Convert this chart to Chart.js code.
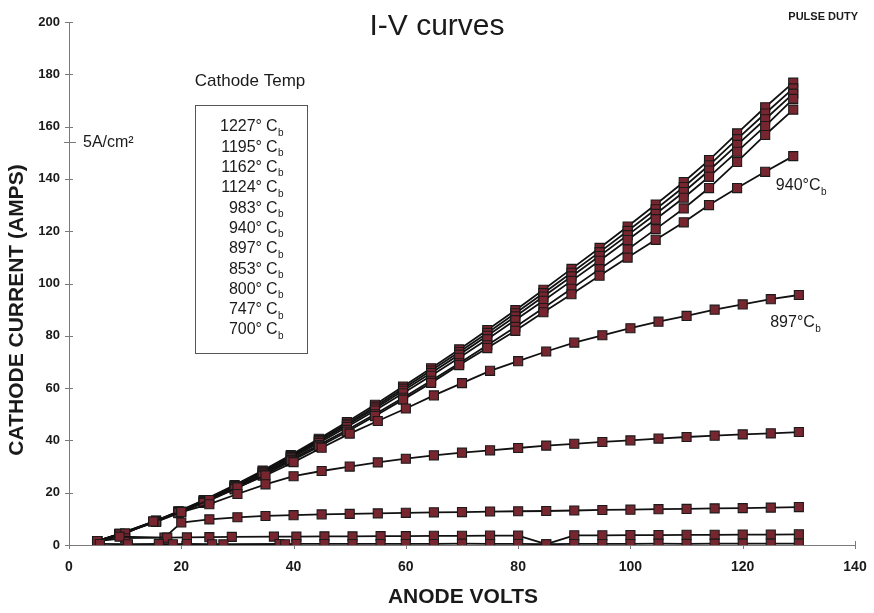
<!DOCTYPE html>
<html>
<head>
<meta charset="utf-8">
<script src="https://cdn.jsdelivr.net/npm/chart.js@4.4.1/dist/chart.umd.min.js"></script>
<style>
  html, body { margin: 0; padding: 0; background: #ffffff; }
  canvas { display: block; }
</style>
</head>
<body>
<canvas id="ivChart" width="874" height="613"></canvas>
<script>
// Cathode temperatures (°C brightness), hottest first
const cathodeTemps = ['1227', '1195', '1162', '1124', '983', '940', '897', '853', '800', '747', '700'];

// Anode voltage steps (V)
const voltsHigh = [5, 9, 15.5, 19.5, 24, 29.5, 34.5, 39.5, 44.5, 49.5, 54.5, 59.5, 64.5, 69.5, 74.5, 79.5, 84.5, 89.5, 94.5, 99.5, 104.5, 109.5, 114, 119, 124, 129];
const voltsLow = [5, 10, 15, 20, 25, 30, 35, 40, 45, 50, 55, 60, 65, 70, 75, 80, 85, 90, 95, 100, 105, 110, 115, 120, 125, 130];
const volts800 = [5, 10, 17, 20, 25, 30, 35, 40, 45, 50, 55, 60, 65, 70, 75, 80, 85, 90, 95, 100, 105, 110, 115, 120, 125, 130];
const volts747 = [5, 9, 17.5, 21, 25, 29, 36.5, 40.5, 45.5, 50.5, 55.5, 60, 65, 70, 75, 80, 85, 90, 95, 100, 105, 110, 115, 120, 125, 130];
const volts700 = [5.5, 10.5, 16, 18.5, 21, 25.5, 27.5, 37.5, 38.5, 40.5, 45.5, 50.5, 55.5, 60, 65, 70, 75, 80, 85, 90, 95, 100, 105, 110, 115, 120, 125, 130];

// Cathode current (A)
const amps1227 = [1.5, 4.3, 9.3, 12.9, 17.2, 22.9, 28.5, 34.4, 40.6, 47.0, 53.6, 60.6, 67.6, 74.8, 82.2, 89.8, 97.6, 105.6, 113.6, 121.8, 130.2, 138.8, 147.2, 157.4, 167.4, 176.8];
const amps1195 = [1.5, 4.3, 9.2, 12.8, 17.0, 22.6, 28.2, 34.0, 40.1, 46.4, 52.9, 59.8, 66.7, 73.8, 81.1, 88.6, 96.3, 104.1, 112.0, 120.1, 128.4, 136.9, 145.2, 155.2, 165.0, 174.6];
const amps1162 = [1.5, 4.2, 9.1, 12.6, 16.8, 22.3, 27.8, 33.6, 39.6, 45.8, 52.2, 59.0, 65.8, 72.8, 80.0, 87.4, 95.0, 102.7, 110.5, 118.5, 126.6, 135.0, 143.2, 153.0, 162.8, 172.6];
const amps1124 = [1.5, 4.2, 9.0, 12.5, 16.6, 22.0, 27.4, 33.1, 39.0, 45.1, 51.4, 58.0, 64.7, 71.6, 78.7, 86.0, 93.4, 101.0, 108.7, 116.6, 124.6, 132.8, 140.8, 150.4, 160.2, 170.6];
const amps983  = [1.5, 4.1, 8.9, 12.3, 16.3, 21.6, 26.9, 32.5, 38.2, 44.0, 50.0, 56.3, 62.8, 69.5, 76.4, 83.4, 90.6, 98.0, 105.5, 113.0, 120.8, 128.7, 136.5, 146.5, 156.8, 166.5];
const amps940  = [1.5, 4.1, 8.8, 12.2, 16.1, 21.3, 26.5, 32.0, 37.6, 43.3, 49.3, 55.6, 62.0, 68.8, 75.3, 81.9, 89.0, 95.9, 103.0, 109.9, 116.7, 123.4, 130.0, 136.5, 142.7, 148.7];
const amps897  = [1.5, 4.4, 9.0, 12.8, 17.2, 22.0, 26.6, 31.7, 37.2, 42.6, 47.4, 52.2, 57.2, 61.9, 66.6, 70.3, 74.0, 77.4, 80.2, 82.9, 85.4, 87.6, 90.0, 92.0, 94.0, 95.6];
const amps853  = [1.5, 4.4, 9.0, 12.6, 15.6, 19.5, 23.2, 26.3, 28.3, 30.0, 31.6, 33.0, 34.3, 35.3, 36.2, 37.1, 38.0, 38.7, 39.4, 40.0, 40.7, 41.3, 41.8, 42.3, 42.7, 43.2];
const amps800  = [1.5, 2.6, 2.8, 8.6, 9.8, 10.6, 11.1, 11.4, 11.7, 11.9, 12.1, 12.3, 12.5, 12.6, 12.8, 12.9, 13.0, 13.2, 13.4, 13.5, 13.7, 13.8, 14.0, 14.1, 14.3, 14.5];
const amps747  = [1.5, 3.2, 2.8, 2.9, 3.0, 3.1, 3.2, 3.2, 3.3, 3.3, 3.4, 3.4, 3.5, 3.5, 3.6, 3.6, 0.3, 3.7, 3.7, 3.8, 3.8, 3.9, 3.9, 4.0, 4.0, 4.1];
const amps700  = [0.4, 0.3, 0.4, 0.3, 0.4, 0.3, 0.3, 0.4, 0.3, 0.4, 0.4, 0.4, 0.4, 0.4, 0.4, 0.5, 0.4, 0.4, 0.3, 0.4, 0.4, 0.4, 0.5, 0.4, 0.5, 0.5, 0.5, 0.5];

// Axis ticks
const xTickValues = [0, 20, 40, 60, 80, 100, 120, 140];
const yTickValues = [0, 20, 40, 60, 80, 100, 120, 140, 160, 180, 200];

// Current corresponding to 5 A/cm² emission density
const densityMarkAmps = 154.3;

// Curves labelled directly near their right end
const endLabels = ['940', '897'];

const seriesTable = [
  { temp: '700',  volts: volts700,  amps: amps700 },
  { temp: '747',  volts: volts747,  amps: amps747 },
  { temp: '800',  volts: volts800,  amps: amps800 },
  { temp: '853',  volts: voltsLow,  amps: amps853 },
  { temp: '897',  volts: voltsLow,  amps: amps897 },
  { temp: '940',  volts: voltsHigh, amps: amps940 },
  { temp: '983',  volts: voltsHigh, amps: amps983 },
  { temp: '1124', volts: voltsHigh, amps: amps1124 },
  { temp: '1162', volts: voltsHigh, amps: amps1162 },
  { temp: '1195', volts: voltsHigh, amps: amps1195 },
  { temp: '1227', volts: voltsHigh, amps: amps1227 }
];

const FONT = '"Liberation Sans", Arial, Helvetica, sans-serif';
const MARKER_FILL = '#772630';

// Where the end-of-curve labels sit, in axis units (left edge, vertical centre)
const endLabelAnchor = { '940': { x: 125.9, y: 137.5 }, '897': { x: 124.9, y: 85.0 } };

const datasets = seriesTable.map(s => ({
  label: s.temp + '° Cb',
  data: s.volts.map((v, i) => ({ x: v, y: s.amps[i] })),
  showLine: true,
  borderColor: '#111111',
  borderWidth: 1.8,
  pointStyle: 'rect',
  pointRadius: 6.4,
  pointBackgroundColor: MARKER_FILL,
  pointBorderColor: '#1a1a1a',
  pointBorderWidth: 1.1,
  tension: 0
}));

// Draws "<num>°C" with a subscript b
function drawTempLabel(ctx, numText, x, y, size, align, gap) {
  ctx.font = size + 'px ' + FONT;
  ctx.textBaseline = 'middle';
  if (align === 'right') {
    ctx.textAlign = 'right';
    ctx.fillText(numText + '°', x, y);
    ctx.textAlign = 'left';
    const cx = x + gap;
    ctx.fillText('C', cx, y);
    const cw = ctx.measureText('C').width;
    ctx.font = Math.round(size * 0.6) + 'px ' + FONT;
    ctx.fillText('b', cx + cw + 0.5, y + size * 0.38);
  } else {
    ctx.textAlign = 'left';
    const t = numText + '°C';
    ctx.fillText(t, x, y);
    const w = ctx.measureText(t).width;
    ctx.font = Math.round(size * 0.6) + 'px ' + FONT;
    ctx.fillText('b', x + w + 0.5, y + size * 0.4);
  }
}

const crossTicks = {
  id: 'crossTicks',
  beforeDatasetsDraw(chart) {
    const { ctx, scales: { x, y } } = chart;
    ctx.save();
    ctx.strokeStyle = '#7a7a7a';
    ctx.lineWidth = 1;
    ctx.beginPath();
    yTickValues.forEach(v => {
      const py = Math.round(y.getPixelForValue(v)) + 0.5;
      ctx.moveTo(x.left - 4, py);
      ctx.lineTo(x.left + 4, py);
    });
    xTickValues.forEach(v => {
      const px = Math.round(x.getPixelForValue(v)) + 0.5;
      ctx.moveTo(px, y.bottom - 4);
      ctx.lineTo(px, y.bottom + 4);
    });
    const dy = Math.round(y.getPixelForValue(densityMarkAmps)) + 0.5;
    ctx.moveTo(x.left - 5, dy);
    ctx.lineTo(x.left + 7, dy);
    ctx.stroke();
    ctx.restore();
  }
};

const annotations = {
  id: 'annotations',
  afterDraw(chart) {
    const { ctx, scales: { x, y } } = chart;
    ctx.save();
    ctx.fillStyle = '#1a1a1a';

    // Main title
    ctx.font = '30px ' + FONT;
    ctx.textAlign = 'center';
    ctx.textBaseline = 'middle';
    ctx.fillText('I-V curves', 437, 27);

    // Mode note
    ctx.font = 'bold 11px ' + FONT;
    ctx.textAlign = 'right';
    ctx.fillText('PULSE DUTY', 858, 17);

    // Axis titles
    ctx.font = 'bold 21px ' + FONT;
    ctx.textAlign = 'center';
    ctx.fillText('ANODE VOLTS', 463, 597);
    ctx.save();
    ctx.translate(17, 310);
    ctx.rotate(-Math.PI / 2);
    ctx.fillText('CATHODE CURRENT (AMPS)', 0, 0);
    ctx.restore();

    // 5 A/cm² marker text
    const dy = y.getPixelForValue(densityMarkAmps);
    ctx.font = '16px ' + FONT;
    ctx.textAlign = 'left';
    ctx.textBaseline = 'middle';
    ctx.fillText('5A/cm²', x.left + 14, dy + 1);

    // Temperature key
    ctx.font = '17px ' + FONT;
    ctx.textAlign = 'center';
    ctx.fillText('Cathode Temp', 250, 81);
    ctx.strokeStyle = '#555';
    ctx.lineWidth = 1;
    ctx.strokeRect(195.5, 105.5, 112, 248);
    cathodeTemps.forEach((t, i) => {
      drawTempLabel(ctx, t, 262, 127 + i * 20.3, 16, 'right', 4);
    });

    // End-of-curve labels
    endLabels.forEach(t => {
      const a = endLabelAnchor[t];
      drawTempLabel(ctx, t, x.getPixelForValue(a.x), y.getPixelForValue(a.y), 16, 'left', 0);
    });
    ctx.restore();
  }
};

new Chart(document.getElementById('ivChart'), {
  type: 'scatter',
  data: { datasets },
  options: {
    responsive: false,
    animation: false,
    events: [],
    layout: { padding: { top: 22, right: 19, left: 0, bottom: 0 } },
    plugins: { legend: { display: false }, tooltip: { enabled: false }, title: { display: false } },
    scales: {
      x: {
        type: 'linear',
        min: 0, max: 140,
        afterBuildTicks: s => { s.ticks = xTickValues.map(v => ({ value: v })); },
        afterFit: s => { s.height = 68; s.paddingLeft = 0; s.paddingRight = 0; },
        grid: { display: true, drawOnChartArea: false, drawTicks: false },
        border: { display: true, color: '#7a7a7a', width: 1 },
        ticks: { color: '#1a1a1a', padding: 14, maxRotation: 0, font: { family: FONT, size: 14, weight: 'bold' } }
      },
      y: {
        type: 'linear',
        min: 0, max: 200,
        afterBuildTicks: s => { s.ticks = yTickValues.map(v => ({ value: v })); },
        afterFit: s => { s.width = 69; s.paddingTop = 0; s.paddingBottom = 0; },
        grid: { display: true, drawOnChartArea: false, drawTicks: false },
        border: { display: true, color: '#7a7a7a', width: 1 },
        ticks: { color: '#1a1a1a', padding: 9, font: { family: FONT, size: 13, weight: 'bold' } }
      }
    }
  },
  plugins: [crossTicks, annotations]
});
</script>
</body>
</html>
